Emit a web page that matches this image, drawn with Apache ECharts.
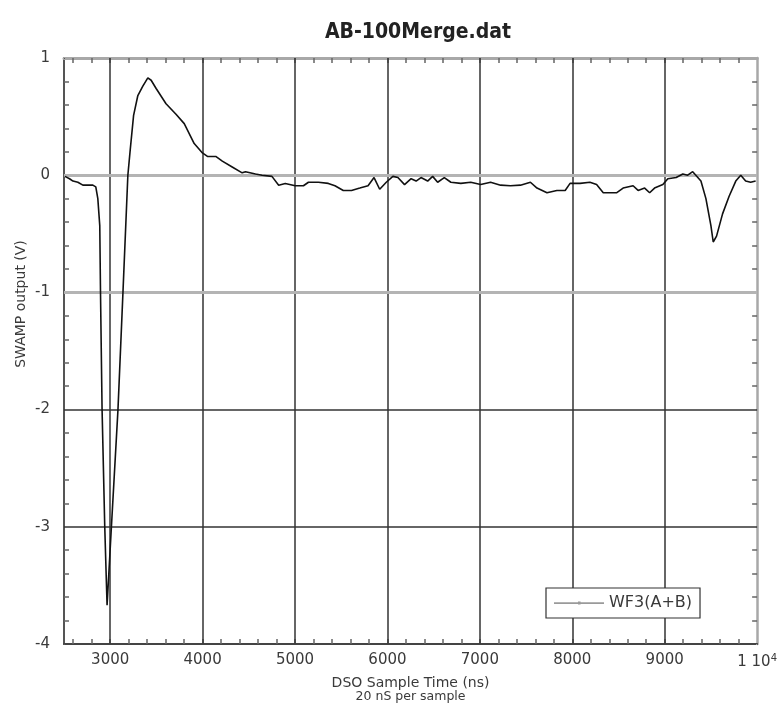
<!DOCTYPE html>
<html>
<head>
<meta charset="utf-8">
<script src="https://cdn.jsdelivr.net/npm/echarts@6/dist/echarts.min.js"></script>
<style>
  html, body { margin: 0; padding: 0; background: #fff; }
  #chart { width: 780px; height: 708px; }
</style>
</head>
<body>
<div id="chart"></div>
<script>
  // waveform: sample time (ns) / output (V)
  var timeNs = [2510, 2530, 2560, 2597, 2650, 2704, 2760, 2812, 2844, 2866, 2887, 2895, 2912, 2941, 2966,
    3013, 3084, 3138, 3191, 3217, 3253, 3299, 3353, 3407, 3443, 3497, 3604, 3712, 3801, 3909, 3998,
    4052, 4142, 4213, 4320, 4428, 4464, 4572, 4643, 4750, 4823, 4894, 5002, 5091, 5145, 5253, 5360,
    5432, 5522, 5611, 5701, 5790, 5855, 5916, 5987, 6059, 6113, 6185, 6256, 6310, 6363, 6435, 6489,
    6543, 6615, 6686, 6794, 6901, 7009, 7116, 7224, 7331, 7439, 7547, 7618, 7726, 7833, 7923, 7976,
    8084, 8191, 8263, 8335, 8478, 8550, 8658, 8712, 8783, 8837, 8890, 8980, 9034, 9124, 9196, 9249,
    9303, 9392, 9446, 9500, 9525, 9561, 9626, 9697, 9769, 9823, 9876, 9930, 9984];
  var wf3 = [-0.01, -0.02, -0.03, -0.05, -0.06, -0.085, -0.085, -0.085, -0.1, -0.2, -0.43, -1.0, -2.0, -3.0, -3.67,
    -3.0, -2.0, -1.0, 0.0, 0.22, 0.51, 0.68, 0.76, 0.83, 0.81, 0.74, 0.61, 0.52, 0.44, 0.27, 0.19,
    0.16, 0.16, 0.12, 0.07, 0.02, 0.03, 0.01, 0.0, -0.01, -0.085, -0.07, -0.09, -0.09, -0.06, -0.06, -0.07,
    -0.09, -0.13, -0.13, -0.11, -0.09, -0.02, -0.12, -0.06, -0.01, -0.02, -0.08, -0.03, -0.05, -0.02, -0.05, -0.01,
    -0.06, -0.02, -0.06, -0.07, -0.06, -0.08, -0.06, -0.085, -0.09, -0.085, -0.06, -0.11, -0.15, -0.13, -0.13, -0.07,
    -0.07, -0.06, -0.08, -0.15, -0.15, -0.11, -0.09, -0.13, -0.11, -0.15, -0.11, -0.08, -0.03, -0.02, 0.01, 0.0,
    0.03, -0.05, -0.2, -0.43, -0.57, -0.52, -0.33, -0.18, -0.05, 0.0, -0.05, -0.06, -0.05];

  var xLabels = [3000, 4000, 5000, 6000, 7000, 8000, 9000, 10000];
  var xTicks = [2600, 2800, 3000, 3200, 3400, 3600, 3800, 4000, 4200, 4400, 4600, 4800, 5000, 5200, 5400,
    5600, 5800, 6000, 6200, 6400, 6600, 6800, 7000, 7200, 7400, 7600, 7800, 8000, 8200, 8400, 8600,
    8800, 9000, 9200, 9400, 9600, 9800];
  var xGrid = [3000, 4000, 5000, 6000, 7000, 8000, 9000];
  var yGridDark = [-3, -2];
  var yGridGray = [-1, 0];

  var chart = echarts.init(document.getElementById('chart'));

  var fontFam = 'DejaVu Sans, Verdana, sans-serif';
  var textColor = '#3a3a3a';

  var gridLines = [];
  xGrid.forEach(function (v) {
    gridLines.push({ xAxis: v, lineStyle: { color: '#333', width: 1.5, type: 'solid' } });
  });
  yGridDark.forEach(function (v) {
    gridLines.push({ yAxis: v, lineStyle: { color: '#333', width: 1.5, type: 'solid' } });
  });
  yGridGray.forEach(function (v) {
    gridLines.push({ yAxis: v, lineStyle: { color: '#b4b4b4', width: 3, type: 'solid' } });
  });

  chart.setOption({
    animation: false,
    backgroundColor: '#fff',
    title: {
      text: 'AB-100Merge.dat',
      left: 413,
      textAlign: 'center',
      top: 17,
      textStyle: {
        fontFamily: 'DejaVu Sans Condensed, DejaVu Sans, sans-serif',
        fontWeight: 'bold',
        fontSize: 21,
        color: '#222'
      }
    },
    grid: { left: 64, right: 20, top: 58, bottom: 64 },
    legend: {
      left: 546,
      top: 588,
      orient: 'horizontal',
      padding: [7, 8, 7, 8],
      borderColor: '#333',
      borderWidth: 1.2,
      backgroundColor: '#fff',
      itemWidth: 50,
      itemHeight: 12,
      itemGap: 6,
      textStyle: { color: textColor, fontSize: 16, fontFamily: fontFam },
      data: [{
        name: 'WF3(A+B)',
        icon: 'path://M0,4.8 L48,4.8 L48,6.4 L0,6.4 Z M23,4 L25.5,4 L25.5,7 L23,7 Z',
        itemStyle: { color: '#9a9a9a' }
      }]
    },
    xAxis: [{
      type: 'value',
      position: 'bottom',
      min: 2500,
      max: 10000,
      axisLine: { show: true, onZero: false, lineStyle: { color: '#444', width: 2 } },
      axisTick: { show: true, inside: true, length: 5, customValues: xTicks, lineStyle: { color: '#666', width: 1.5 } },
      splitLine: { show: false },
      axisLabel: {
        customValues: xLabels,
        margin: 9,
        color: textColor,
        fontSize: 15,
        fontFamily: fontFam,
        formatter: function (v) {
          return v === 10000 ? '{a|1 10}{s|4}' : String(v);
        },
        rich: {
          a: { fontSize: 15, color: textColor, fontFamily: fontFam },
          s: { fontSize: 10, color: textColor, verticalAlign: 'top', padding: [0, 0, 8, 0], fontFamily: fontFam }
        }
      },
      name: '{a|DSO Sample Time (ns)}\n{b|20 nS per sample}',
      nameLocation: 'middle',
      nameGap: 32,
      nameTextStyle: {
        rich: {
          a: { fontSize: 14, color: textColor, lineHeight: 14, fontFamily: fontFam },
          b: { fontSize: 12.5, color: textColor, lineHeight: 13, fontFamily: fontFam }
        }
      }
    }, {
      type: 'value',
      position: 'top',
      min: 2500,
      max: 10000,
      axisLine: { show: true, onZero: false, lineStyle: { color: '#a8a8a8', width: 3 } },
      axisTick: { show: true, inside: true, length: 5, customValues: xTicks, lineStyle: { color: '#666', width: 1.5 } },
      axisLabel: { show: false },
      splitLine: { show: false }
    }],
    yAxis: [{
      type: 'value',
      position: 'left',
      min: -4,
      max: 1,
      interval: 1,
      axisLine: { show: true, onZero: false, lineStyle: { color: '#555', width: 2 } },
      axisTick: { show: true, inside: true, length: 1, lineStyle: { color: '#555', width: 1 } },
      minorTick: { show: true, splitNumber: 5, length: 5, lineStyle: { color: '#666', width: 1.5 } },
      splitLine: { show: false },
      axisLabel: {
        margin: 14,
        color: textColor,
        fontSize: 15,
        fontFamily: fontFam
      }
    }, {
      type: 'value',
      position: 'right',
      min: -4,
      max: 1,
      interval: 1,
      axisLine: { show: true, onZero: false, lineStyle: { color: '#a8a8a8', width: 2.5 } },
      axisTick: { show: true, inside: true, length: 1, lineStyle: { color: '#a8a8a8', width: 1 } },
      minorTick: { show: true, splitNumber: 5, length: 5, lineStyle: { color: '#666', width: 1.5 } },
      splitLine: { show: false },
      axisLabel: { show: false }
    }],
    graphic: [{
      type: 'text',
      x: 21,
      y: 304,
      rotation: Math.PI / 2,
      style: {
        text: 'SWAMP output (V)',
        fill: textColor,
        fontSize: 14,
        fontFamily: fontFam,
        align: 'center',
        verticalAlign: 'middle'
      }
    }],
    series: [{
      name: 'WF3(A+B)',
      type: 'line',
      xAxisIndex: 0,
      yAxisIndex: 0,
      showSymbol: false,
      symbol: 'none',
      lineStyle: { color: '#111', width: 1.6 },
      itemStyle: { color: '#111' },
      data: timeNs.map(function (t, i) { return [t, wf3[i]]; }),
      markLine: {
        silent: true,
        symbol: 'none',
        label: { show: false },
        z: 1,
        data: gridLines
      },
      z: 5
    }]
  });
</script>
</body>
</html>
